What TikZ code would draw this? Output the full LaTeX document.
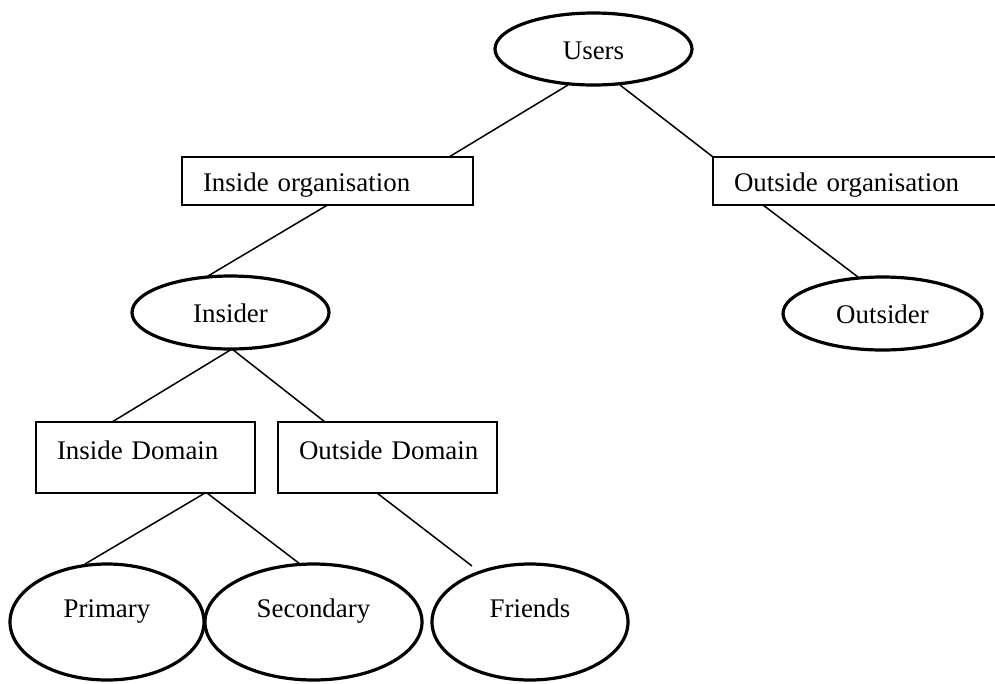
\documentclass[tikz,border=0pt]{standalone}
\usepackage{fontspec}
\setmainfont{Liberation Serif}
\usetikzlibrary{shapes.geometric}
\begin{document}
\begin{tikzpicture}[x=1pt,y=-1pt,
  every node/.style={font=\fontsize{26.9}{32}\selectfont, text height=20pt, text depth=0pt, inner sep=0pt, outer sep=0pt},
  oval/.style={ellipse, draw, line width=3.2pt},
  tag/.style={rectangle, draw, line width=1.6pt, align=left, inner xsep=21pt},
  link/.style={line width=1.5pt}]
\useasboundingbox (0,0) rectangle (995,683);
\clip (0,0) rectangle (995,683);
\fill[white] (0,0) rectangle (995,683);

% top level
\node[oval, minimum width=197pt, minimum height=72pt] (users) at (593.5,49) {Users};
\node[tag, minimum height=48pt, text width=249pt] (inorg) at (327.5,181) {\mbox{Inside organisation}};
\node[tag, minimum height=48pt, text width=258pt] (outorg) at (863,181) {\mbox{Outside organisation}};

% second level
\node[oval, minimum width=197pt, minimum height=73pt] (insider) at (230.5,312.5) {Insider};
\node[oval, minimum width=199pt, minimum height=73pt] (outsider) at (882.5,313.5) {Outsider};

% domains
\node[tag, text depth=17pt, minimum height=71pt, text width=177pt] (indom) at (145.5,457.5) {\mbox{Inside Domain}};
\node[tag, text depth=17pt, minimum height=71pt, text width=177pt] (outdom) at (387.5,457.5) {\mbox{Outside Domain}};

% leaves
\node[oval, text depth=30pt, minimum width=194pt, minimum height=116pt] (primary) at (107,622) {Primary};
\node[oval, text depth=30pt, minimum width=217pt, minimum height=116pt] (secondary) at (313.5,622) {Secondary};
\node[oval, text depth=30pt, minimum width=196pt, minimum height=116pt] (friends) at (530,622) {Friends};

% connectors
\draw[link] ([xshift=-25.5pt]users.south) -- ([xshift=121.5pt]inorg.north);
\draw[link] ([xshift=26.5pt]users.south) -- (outorg.north west);
\draw[link] (inorg.south) -- ([xshift=-22.5pt]insider.north);
\draw[link] ([xshift=50pt]outorg.south west) -- ([xshift=-24.5pt]outsider.north);
\draw[link] ([xshift=1.5pt]insider.south) -- ([xshift=76pt]indom.north west);
\draw[link] ([xshift=1.5pt]insider.south) -- ([xshift=47pt]outdom.north west);
\draw[link] ([xshift=169pt]indom.south west) -- ([xshift=-22pt]primary.north);
\draw[link] ([xshift=171pt]indom.south west) -- ([xshift=-13.5pt]secondary.north);
\draw[link] ([xshift=99pt]outdom.south west) -- ([xshift=-58pt,yshift=-2pt]friends.north);
\end{tikzpicture}
\end{document}
